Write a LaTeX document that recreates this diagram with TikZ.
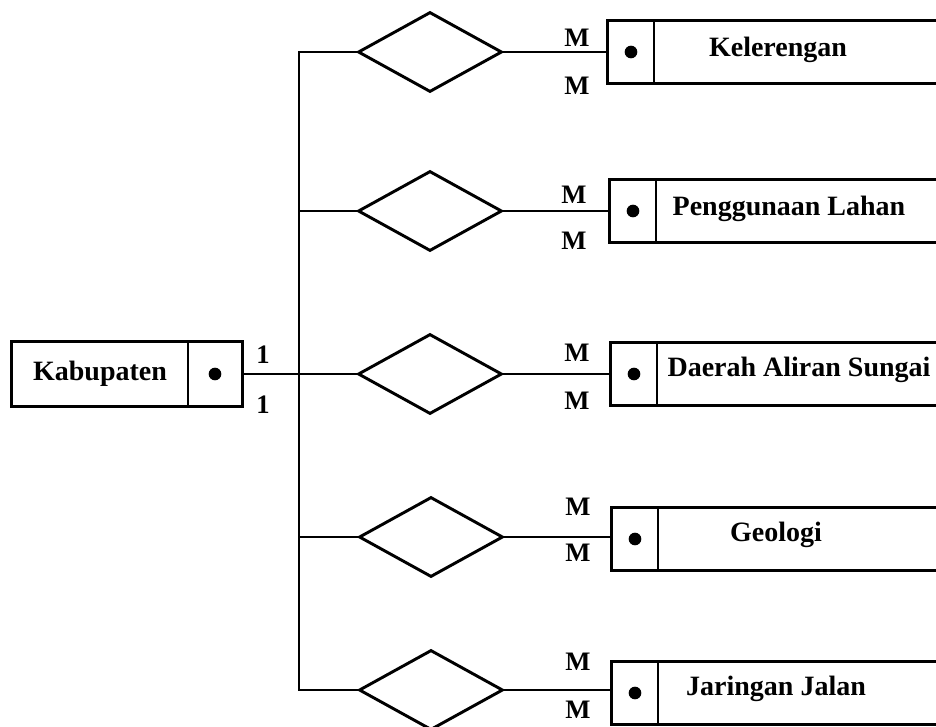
\documentclass[tikz,border=0pt]{standalone}
\usepackage{fontspec}
\setmainfont{Liberation Serif}
\usetikzlibrary{shapes.geometric}
\begin{document}
\begin{tikzpicture}[x=0.75pt,y=0.75pt,yscale=-1,xscale=1,
  every node/.style={font=\bfseries\fontsize{20}{24}\selectfont},
  entname/.style={font=\bfseries\fontsize{21}{25}\selectfont},
  link/.style={line width=1.5pt},
  frame/.style={line width=2.2pt},
  relation/.style={diamond,draw,line width=2.2pt,minimum width=108pt,minimum height=60pt,inner sep=0pt},
  keycell/.style={minimum width=34.5pt,minimum height=46.5pt,inner sep=0pt},
  keydot/.style={circle,fill=black,minimum size=9.5pt,inner sep=0pt},
  card/.style={inner sep=0.75pt}]
\useasboundingbox (0,0) rectangle (936,726);
\clip (0,0) rectangle (936,726);
% Kabupaten
\node [entname,minimum width=132pt,minimum height=48.75pt,inner sep=0pt] (kab) at (100,374) {Kabupaten};
\node [minimum width=40.5pt,minimum height=48.75pt,inner sep=0pt] (kab-key) at (215,374) {};
\node [keydot] (kab-dot) at (kab-key) {};
\draw [frame] (kab.north west) rectangle (kab-key.south east);
\draw [link] (kab-key.north west) -- (kab-key.south west);
\draw (263,355) node [card] (kab-c1) {1};
\draw (263,405) node [card] (kab-c2) {1};
% relasi
\node [relation] (rel1) at (430,52) {};
\node [relation] (rel2) at (430,211) {};
\node [relation] (rel3) at (430,374) {};
\node [relation] (rel4) at (431,537) {};
\node [relation] (rel5) at (431,690) {};
\coordinate (trunk) at (299,374);
\draw [link] (rel1.west) -- (rel1.west -| trunk) -- (rel5.west -| trunk) -- (rel5.west);
\draw [link] (rel2.west) -- (rel2.west -| trunk);
\draw [link] (kab-key.east) -- (rel3.west);
\draw [link] (rel4.west) -- (rel4.west -| trunk);
% Kelerengan
\node [keycell] (kel-key) at (631,52) {};
\node [keydot] (kel-dot) at (kel-key) {};
\draw [frame] (kel-key.north west) rectangle ([xshift=300pt]kel-key.south east);
\draw [link] (kel-key.north east) -- (kel-key.south east);
\node [entname] (kel) at (778,50) {Kelerengan};
\draw [link] (rel1.east) -- (rel1.east -| kel-key.west);
\draw (577,38) node [card] (kel-c1) {M};
\draw (577,86) node [card] (kel-c2) {M};
% Penggunaan Lahan
\node [keycell] (pl-key) at (633,211) {};
\node [keydot] (pl-dot) at (pl-key) {};
\draw [frame] (pl-key.north west) rectangle ([xshift=300pt]pl-key.south east);
\draw [link] (pl-key.north east) -- (pl-key.south east);
\node [entname] (pl) at (789,209) {Penggunaan Lahan};
\draw [link] (rel2.east) -- (rel2.east -| pl-key.west);
\draw (574,195) node [card] (pl-c1) {M};
\draw (574,241) node [card] (pl-c2) {M};
% Daerah Aliran Sungai
\node [keycell] (das-key) at (634,374) {};
\node [keydot] (das-dot) at (das-key) {};
\draw [frame] (das-key.north west) rectangle ([xshift=300pt]das-key.south east);
\draw [link] (das-key.north east) -- (das-key.south east);
\node [entname] (das) at (799,370) {Daerah Aliran Sungai};
\draw [link] (rel3.east) -- (rel3.east -| das-key.west);
\draw (577,353) node [card] (das-c1) {M};
\draw (577,401) node [card] (das-c2) {M};
% Geologi
\node [keycell] (geo-key) at (635,539) {};
\node [keydot] (geo-dot) at (geo-key) {};
\draw [frame] (geo-key.north west) rectangle ([xshift=300pt]geo-key.south east);
\draw [link] (geo-key.north east) -- (geo-key.south east);
\node [entname] (geo) at (776,535) {Geologi};
\draw [link] (rel4.east) -- (rel4.east -| geo-key.west);
\draw (578,507) node [card] (geo-c1) {M};
\draw (578,553) node [card] (geo-c2) {M};
% Jaringan Jalan
\node [keycell] (jj-key) at (635,693) {};
\node [keydot] (jj-dot) at (jj-key) {};
\draw [frame] (jj-key.north west) rectangle ([xshift=300pt]jj-key.south east);
\draw [link] (jj-key.north east) -- (jj-key.south east);
\node [entname] (jj) at (776,689) {Jaringan Jalan};
\draw [link] (rel5.east) -- (rel5.east -| jj-key.west);
\draw (578,662) node [card] (jj-c1) {M};
\draw (578,710) node [card] (jj-c2) {M};
\end{tikzpicture}
\end{document}
